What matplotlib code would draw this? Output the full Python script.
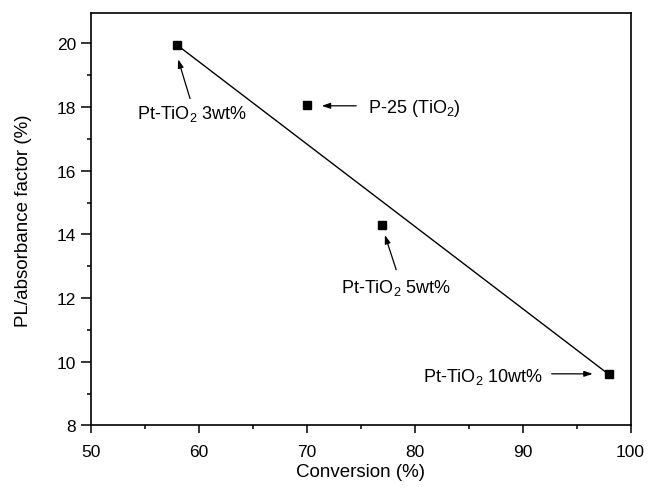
import numpy as np
import matplotlib
matplotlib.use("Agg")
import matplotlib.pyplot as plt
from matplotlib.ticker import MultipleLocator

plt.rcParams['font.family'] = ['Liberation Sans', 'DejaVu Sans']
plt.rcParams['mathtext.default'] = 'regular'

# data
conversion = [58, 70, 77, 98]
pl_factor = [19.95, 18.05, 14.3, 9.6]
labels = ['Pt-TiO$_2$ 3wt%', 'P-25 (TiO$_2$)', 'Pt-TiO$_2$ 5wt%', 'Pt-TiO$_2$ 10wt%']
fit_x = [58, 98]
fit_y = [19.95, 9.6]

fig = plt.figure(figsize=(6.5, 4.89), dpi=100)
ax = fig.add_axes([0.1395, 0.128, 0.8305, 0.843])

ax.plot(fit_x, fit_y, color='black', lw=1.0)
ax.plot(conversion, pl_factor, 's', color='black', markersize=5.6)

arr = dict(arrowstyle='-|>,head_length=0.5,head_width=0.17', color='black', lw=0.9,
           mutation_scale=10, shrinkA=0, shrinkB=0)
fs = 13
ax.annotate('', xy=(58.1, 19.5), xytext=(59.2, 18.27), arrowprops=arr)
ax.text(59.4, 17.8, labels[0], fontsize=fs, ha='center', va='center')

ax.annotate('', xy=(71.4, 18.04), xytext=(74.6, 18.04), arrowprops=arr)
ax.text(75.7, 17.98, labels[1], fontsize=fs, ha='left', va='center')

ax.annotate('', xy=(77.25, 13.98), xytext=(78.3, 12.89), arrowprops=arr)
ax.text(78.3, 12.36, labels[2], fontsize=fs, ha='center', va='center')

ax.annotate('', xy=(96.5, 9.62), xytext=(92.7, 9.62), arrowprops=arr)
ax.text(91.9, 9.56, labels[3], fontsize=fs, ha='right', va='center')

ax.set_xlim(50, 100)
ax.set_ylim(8, 20.95)
ax.xaxis.set_major_locator(MultipleLocator(10))
ax.xaxis.set_minor_locator(MultipleLocator(5))
ax.yaxis.set_major_locator(MultipleLocator(2))
ax.yaxis.set_minor_locator(MultipleLocator(1))
ax.tick_params(which='both', direction='out', top=False, right=False, labelsize=12.5, width=1.1)
ax.tick_params(axis='x', which='major', length=5.5, pad=8)
ax.tick_params(axis='y', which='major', length=7, pad=3.5)
ax.tick_params(which='minor', length=3)
for s in ax.spines.values():
    s.set_linewidth(1.2)

ax.set_xlabel('Conversion (%)', fontsize=13.5, labelpad=3)
ax.set_ylabel('PL/absorbance factor (%)', fontsize=13.5, labelpad=18)

fig.savefig('out.png', dpi=100)
